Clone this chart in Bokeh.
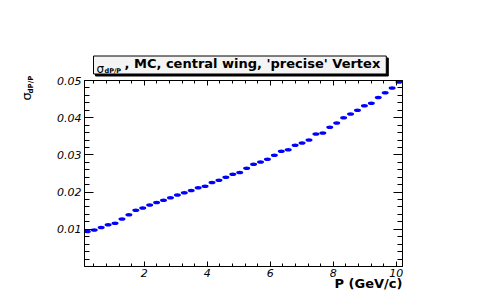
import math
from bokeh.plotting import figure
from bokeh.models import LinearAxis, FixedTicker, Label, Range1d
from bokeh.embed import file_html
from bokeh.resources import INLINE

# ---- data ----
p_values = [0.19, 0.41, 0.63, 0.85, 1.07, 1.29, 1.51, 1.73, 1.95, 2.17,
            2.39, 2.61, 2.83, 3.05, 3.27, 3.49, 3.71, 3.93, 4.15, 4.37,
            4.59, 4.81, 5.03, 5.25, 5.47, 5.69, 5.91, 6.13, 6.35, 6.57,
            6.79, 7.01, 7.23, 7.45, 7.67, 7.89, 8.11, 8.33, 8.55, 8.77,
            8.99, 9.21, 9.43, 9.65, 9.87, 10.09]
sigma_values = [0.0094, 0.0098, 0.0105, 0.0112, 0.0116, 0.0128, 0.0139, 0.0151, 0.0157, 0.0165,
                0.0172, 0.0178, 0.0185, 0.0192, 0.0198, 0.0204, 0.0212, 0.0216, 0.0226, 0.0232,
                0.0240, 0.0248, 0.0253, 0.0264, 0.0275, 0.0281, 0.0288, 0.0299, 0.0310, 0.0314,
                0.0326, 0.0332, 0.0340, 0.0356, 0.0359, 0.0374, 0.0386, 0.0400, 0.0410, 0.0420,
                0.0432, 0.0439, 0.0454, 0.0467, 0.0480, 0.0496]
x_major = [2, 4, 6, 8, 10]
x_minor = [0.4, 0.8, 1.2, 1.6, 2.4, 2.8, 3.2, 3.6, 4.4, 4.8, 5.2, 5.6,
           6.4, 6.8, 7.2, 7.6, 8.4, 8.8, 9.2, 9.6, 10.0]
y_major = [0.01, 0.02, 0.03, 0.04, 0.05]
y_minor = [0.002, 0.004, 0.006, 0.008, 0.012, 0.014, 0.016, 0.018,
           0.022, 0.024, 0.026, 0.028, 0.032, 0.034, 0.036, 0.038,
           0.042, 0.044, 0.046, 0.048]
title_rest = ", MC, central wing, 'precise' Vertex"
x_title = "P (GeV/c)"

X0, X1 = 0.1, 10.2
Y0, Y1 = 0.0, 0.05
W, H = 483, 292
FL, FT, FW, FH = 84, 80, 318, 186  # frame placement within the canvas

p = figure(width=W, height=H, x_range=Range1d(X0, X1), y_range=Range1d(Y0, Y1),
           output_backend="svg", toolbar_location=None,
           x_axis_location=None, y_axis_location=None,
           min_border_left=FL, min_border_top=FT,
           min_border_right=W - FL - FW, min_border_bottom=H - FT - FH)
p.xgrid.visible = False
p.ygrid.visible = False
p.outline_line_color = "black"
p.outline_line_width = 1
p.background_fill_color = "white"
p.border_fill_color = "white"

tick_font = "DejaVu Sans"

def style_axis(ax, major_in, minor_in, labels=True):
    ax.axis_line_color = "black"
    ax.major_tick_line_color = "black"
    ax.minor_tick_line_color = "black"
    ax.major_tick_in = major_in
    ax.major_tick_out = 0
    ax.minor_tick_in = minor_in
    ax.minor_tick_out = 0
    ax.major_label_text_font = tick_font
    ax.major_label_text_font_style = "italic"
    ax.major_label_text_font_size = "11px"
    ax.major_label_text_color = "black"
    if not labels:
        ax.major_label_text_color = None
        ax.major_label_text_font_size = "0px"

xt = FixedTicker(ticks=x_major, minor_ticks=x_minor)
yt = FixedTicker(ticks=y_major, minor_ticks=y_minor)

xb = LinearAxis(ticker=xt)
style_axis(xb, 5, 3)
xb.major_label_standoff = 2
p.add_layout(xb, "below")

xa = LinearAxis(ticker=xt)
style_axis(xa, 5, 3, labels=False)
xa.major_label_overrides = {t: "" for t in x_major}
p.add_layout(xa, "above")

yl = LinearAxis(ticker=yt)
style_axis(yl, 9, 5)
yl.major_label_standoff = 3
p.add_layout(yl, "left")

yr = LinearAxis(ticker=yt)
style_axis(yr, 9, 5, labels=False)
yr.major_label_overrides = {t: "" for t in y_major}
p.add_layout(yr, "right")

# data markers
p.ellipse(x=p_values, y=sigma_values, width=7, height=3.5,
          width_units="screen", height_units="screen",
          fill_color="#0000ff", line_color=None)

bold = "DejaVu Sans"

def lab(place, px, py, text, **kw):
    l = Label(x=px, y=py, x_units="canvas", y_units="canvas", text=text,
              text_font=bold, text_color="black", **kw)
    p.add_layout(l, place)
    return l

# title box: shadow + box   (padding = left, right, top, bottom)
pad = (31, 6, 0, 3)
lab("above", 93, 64.5, title_rest, text_font_style="bold", text_font_size="13px",
    text_baseline="middle", text_align="left",
    background_fill_color="black", border_line_color="black",
    padding=pad, x_offset=2, y_offset=-2)
lab("above", 93, 64.5, title_rest, text_font_style="bold", text_font_size="13px",
    text_baseline="middle", text_align="left",
    background_fill_color="#f4f4f4", border_line_color="black", padding=pad)
lab("left", 96, 68, "σ", text_font_size="12px", text_baseline="alphabetic", text_align="left")
lab("left", 104, 70.5, "dP/P", text_font_style="bold", text_font_size="6.5px",
    text_baseline="alphabetic", text_align="left")

# y axis title (rotated)
lab("left", 26, 100, "σ", text_font_size="13px", angle=math.pi / 2,
    text_baseline="alphabetic", text_align="left")
lab("left", 30, 93, "dP/P", text_font_style="bold", text_font_size="7px",
    angle=math.pi / 2, text_baseline="alphabetic", text_align="left")

# x axis title
lab("above", 402, 283, x_title, text_font_style="bold", text_font_size="13px",
    text_baseline="alphabetic", text_align="right")

open("out.html", "w").write(file_html(p, INLINE))
